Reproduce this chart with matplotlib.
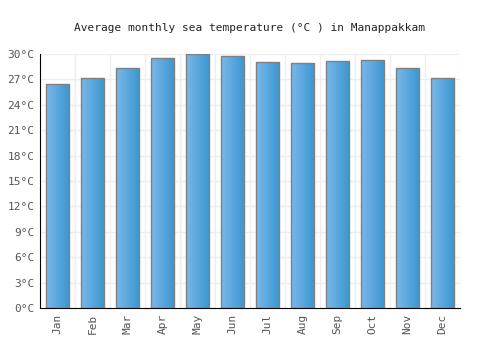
import numpy as np
import matplotlib.pyplot as plt
from matplotlib.colors import LinearSegmentedColormap

months = ["Jan", "Feb", "Mar", "Apr", "May", "Jun", "Jul", "Aug", "Sep", "Oct", "Nov", "Dec"]
sea_temp = [26.5, 27.1, 28.3, 29.5, 30.0, 29.7, 29.1, 28.9, 29.2, 29.3, 28.3, 27.1]
yticks = [0, 3, 6, 9, 12, 15, 18, 21, 24, 27, 30]

plt.rcParams['font.family'] = ['DejaVu Sans Mono']

fig = plt.figure(figsize=(5, 3.5), dpi=100)
ax = fig.add_axes([0.08, 0.12, 0.84, 0.726])

x = np.arange(len(months))
bars = ax.bar(x, sea_temp, width=0.66, facecolor='none', edgecolor='#808080', linewidth=1.0, zorder=3)

# gradient fill, light on the left to darker on the right
cmap = LinearSegmentedColormap.from_list('bar', ['#7ab8ea', '#3a96d0'])
grad = np.linspace(0, 1, 64).reshape(1, -1)
for b in bars:
    x0, y0 = b.get_x(), b.get_y()
    im = ax.imshow(grad, cmap=cmap, aspect='auto', zorder=2,
                   extent=[x0, x0 + b.get_width(), y0, y0 + b.get_height()])
    im.set_clip_path(b)

ax.set_xlim(-0.5, len(months) - 0.5)
ax.set_ylim(0, 30)
ax.set_yticks(yticks)
ax.set_yticklabels([f"{t}°C" for t in yticks])
ax.set_xticks(x)
ax.set_xticklabels(months, rotation=90)
ax.tick_params(axis='both', length=0, labelsize=8, colors='#555555', pad=4)

# grid: horizontal at ticks, vertical between categories
for t in yticks:
    ax.axhline(t, color='#eeeeee', linewidth=1, zorder=0)
for v in np.arange(0.5, len(months) - 0.5, 1):
    ax.axvline(v, color='#eeeeee', linewidth=1, zorder=0)
ax.axvline(len(months) - 0.5, color='#eeeeee', linewidth=1, zorder=0)

for s in ['top', 'right']:
    ax.spines[s].set_visible(False)
ax.spines['left'].set_color('black')
ax.spines['bottom'].set_color('black')

fig.text(0.5, 0.92, "Average monthly sea temperature (°C ) in Manappakkam",
         ha='center', va='center', fontsize=8, color='#222222')

fig.savefig('out.png', dpi=100)
